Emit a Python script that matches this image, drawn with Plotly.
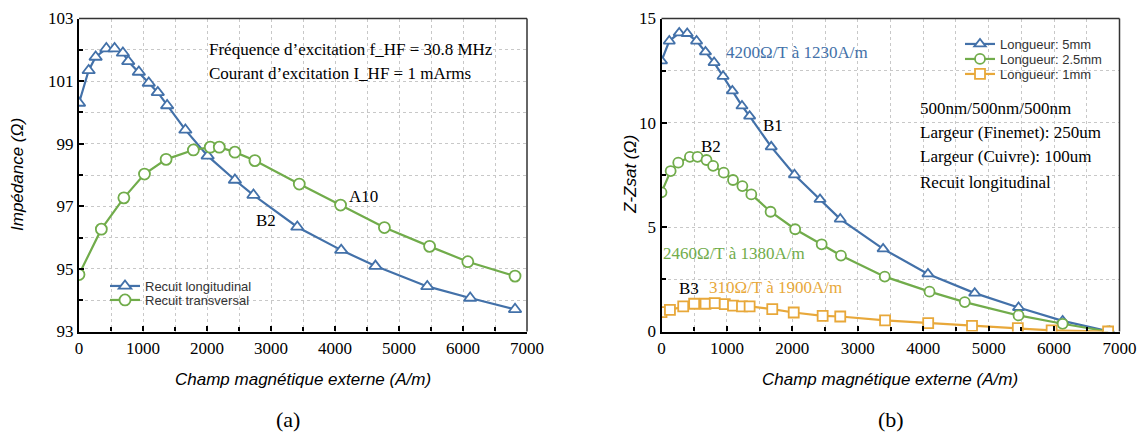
import plotly.graph_objects as go

# ---------------- Data (a) ----------------
long_x = [0, 151, 260, 427, 556, 686, 769, 935, 1090, 1231, 1377, 1662, 2010, 2436, 2726,
          3411, 4097, 4632, 5442, 6112, 6813]
long_y = [100.30, 101.34, 101.77, 102.04, 102.04, 101.90, 101.63, 101.29, 100.94, 100.64, 100.22,
          99.44, 98.61, 97.84, 97.36, 96.34, 95.60, 95.09, 94.44, 94.07, 93.71]
trans_x = [0, 349, 701, 1023, 1361, 1787, 2051, 2192, 2436, 2748, 3442, 4087, 4772, 5478, 6075, 6813]
trans_y = [94.82, 96.27, 97.27, 98.03, 98.50, 98.80, 98.89, 98.89, 98.73, 98.46, 97.71, 97.04,
           96.32, 95.72, 95.23, 94.77]

# ---------------- Data (b) ----------------
l5_x = [0, 119, 271, 393, 536, 672, 804, 941, 1083, 1230, 1347, 1677, 2032, 2423, 2732,
        3387, 4072, 4787, 5457, 6131, 6852]
l5_y = [12.97, 13.92, 14.31, 14.28, 13.92, 13.40, 12.89, 12.23, 11.53, 10.81, 10.32, 8.85, 7.51,
        6.33, 5.39, 3.96, 2.76, 1.84, 1.15, 0.51, 0.0]
l25_x = [0, 140, 256, 434, 551, 688, 789, 951, 1093, 1236, 1373, 1667, 2043, 2448, 2743,
         3412, 4097, 4635, 5457, 6131, 6826]
l25_y = [6.67, 7.69, 8.09, 8.37, 8.37, 8.22, 7.94, 7.61, 7.26, 6.97, 6.57, 5.74, 4.90, 4.18, 3.64,
         2.63, 1.91, 1.41, 0.77, 0.37, 0.0]
l1_x = [0, 129, 332, 499, 673, 814, 967, 1093, 1230, 1347, 1693, 2021, 2463, 2732,
        3417, 4076, 4746, 5446, 5963, 6826]
l1_y = [0.93, 1.04, 1.20, 1.33, 1.33, 1.36, 1.31, 1.24, 1.20, 1.20, 1.07, 0.91, 0.75, 0.72,
        0.53, 0.40, 0.27, 0.16, 0.05, 0.0]

BLUE = "#4371A9"
GREEN = "#71AC4B"
ORANGE = "#E8A83A"

SERIF = "Liberation Serif, Times New Roman, serif"
SANS = "Liberation Sans, Arial, Helvetica, sans-serif"

W, H = 1139, 434

fig = go.Figure()

def add(x, y, color, symbol, name, xa, ya, legend, size):
    fig.add_trace(go.Scatter(
        x=x, y=y, mode="lines+markers", name=name,
        xaxis=xa, yaxis=ya, legend=legend,
        line=dict(color=color, width=2.2),
        marker=dict(symbol=symbol, size=size, color="white",
                    line=dict(color=color, width=1.8)),
    ))

add(long_x, long_y, BLUE, "triangle-up", "Recuit longitudinal", "x", "y", "legend", 11)
add(trans_x, trans_y, GREEN, "circle", "Recuit transversal", "x", "y", "legend2", 11)
add(l5_x, l5_y, BLUE, "triangle-up", "Longueur: 5mm", "x2", "y2", "legend3", 10)
add(l25_x, l25_y, GREEN, "circle", "Longueur: 2.5mm", "x2", "y2", "legend4", 10)
add(l1_x, l1_y, ORANGE, "square", "Longueur: 1mm", "x2", "y2", "legend5", 10)

dom_x1 = [79 / W, 527 / W]
dom_x2 = [661.5 / W, 1119.5 / W]
dom_y = [1 - 331.5 / H, 1 - 18.5 / H]

common_axis = dict(
    showline=True, linecolor="black", linewidth=2.2, mirror=False,
    ticks="inside", ticklen=5, tickwidth=1.5, tickcolor="black",
    showgrid=True, gridcolor="#c8c8c8", griddash="dot", gridwidth=1,
    zeroline=False, automargin=False,
    tickfont=dict(family=SERIF, size=17, color="black"),
)

def leg(x, y):
    return dict(x=x / W, y=1 - y / H, xanchor="left", yanchor="middle",
                font=dict(family=SANS, size=13, color="#333333"),
                bgcolor="rgba(255,255,255,0)", itemwidth=30,
                borderwidth=0)

fig.update_layout(
    width=W, height=H,
    margin=dict(l=0, r=0, t=0, b=0, autoexpand=False),
    paper_bgcolor="white", plot_bgcolor="white",
    xaxis=dict(domain=dom_x1, anchor="y", range=[0, 7000], dtick=1000, tick0=0,
               minor=dict(dtick=500, ticks="inside", ticklen=4, tickcolor="black",
                          showgrid=True, gridcolor="#c8c8c8", griddash="dot"),
               **common_axis),
    yaxis=dict(domain=dom_y, anchor="x", range=[93, 103], dtick=2, tick0=93,
               minor=dict(dtick=1, ticks="inside", ticklen=4, tickcolor="black",
                          showgrid=True, gridcolor="#c8c8c8", griddash="dot"),
               **common_axis),
    xaxis2=dict(domain=dom_x2, anchor="y2", range=[0, 7000], dtick=1000, tick0=0,
                minor=dict(dtick=500, ticks="inside", ticklen=4, tickcolor="black",
                           showgrid=True, gridcolor="#c8c8c8", griddash="dot"),
                **common_axis),
    yaxis2=dict(domain=dom_y, anchor="x2", range=[0, 15], dtick=5, tick0=0,
                minor=dict(dtick=2.5, ticks="inside", ticklen=4, tickcolor="black",
                           showgrid=True, gridcolor="#c8c8c8", griddash="dot"),
                **common_axis),
    legend=leg(105, 286),
    legend2=leg(105, 300),
    legend3=leg(960, 44),
    legend4=leg(960, 59),
    legend5=leg(960, 74),
    showlegend=True,
)

# thin top/right frame lines
for xr, yr in (("x domain", "y domain"), ("x2 domain", "y2 domain")):
    fig.add_shape(type="line", xref=xr, yref=yr, x0=0, x1=1, y0=1, y1=1,
                  line=dict(color="#333333", width=1.5))
    fig.add_shape(type="line", xref=xr, yref=yr, x0=1, x1=1, y0=0, y1=1,
                  line=dict(color="#333333", width=1.5))

def ann(text, x, y, size=17, color="black", family=SERIF, xanchor="left", angle=0, italic=False):
    fig.add_annotation(text=text, x=x / W, y=1 - y / H, xref="paper", yref="paper",
                       showarrow=False, xanchor=xanchor, yanchor="middle", textangle=angle,
                       font=dict(family=family, size=size, color=color,
                                 style="italic" if italic else "normal"))

# axis titles
ann("Champ magnétique externe (A/m)", 303, 379, size=17, family=SANS, xanchor="center", italic=True)
ann("Champ magnétique externe (A/m)", 890, 379, size=17, family=SANS, xanchor="center", italic=True)
ann("Impédance (Ω)", 17, 175, size=17, family=SANS, xanchor="center", angle=-90, italic=True)
ann("Z-Zsat (Ω)", 630, 175, size=17, family=SANS, xanchor="center", angle=-90, italic=True)

# panel labels
ann("(a)", 288, 419, size=22, xanchor="center")
ann("(b)", 891, 419, size=22, xanchor="center")

# left annotations
ann("Fréquence d’excitation f_HF = 30.8 MHz", 207, 49)
ann("Courant d’excitation I_HF = 1 mArms", 207, 73)
ann("A10", 347, 196)
ann("B2", 254, 221)

# right annotations
ann("4200Ω/T à 1230A/m", 724, 52, color=BLUE)
ann("B1", 761, 125)
ann("B2", 699, 146)
ann("500nm/500nm/500nm", 918, 108)
ann("Largeur (Finemet): 250um", 918, 132)
ann("Largeur (Cuivre): 100um", 918, 157)
ann("Recuit longitudinal", 918, 182)
ann("2460Ω/T à 1380A/m", 661, 253, color=GREEN)
ann("B3", 677, 288)
ann("310Ω/T à 1900A/m", 707, 287, color=ORANGE)

fig.write_html(
    "out.html",
    config={"displayModeBar": False},
    post_script="document.body.style.margin='0';document.body.style.overflow='hidden';",
)
